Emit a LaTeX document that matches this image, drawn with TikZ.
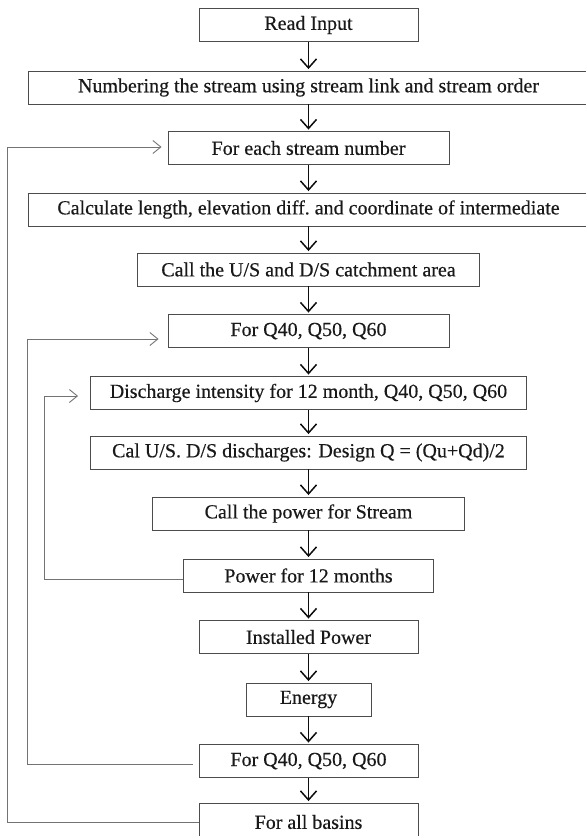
\documentclass[tikz,border=0pt]{standalone}
\usepackage{fontspec}
\setmainfont{Liberation Serif}[FakeBold=0.4]
\usetikzlibrary{arrows.meta}

\tikzset{
  stepbox/.style={draw=black!70, line width=0.9pt, minimum height=33pt, inner sep=0pt,
    text=black!90, font=\fontsize{20}{22}\selectfont},
  flow/.style={-{Straight Barb[length=9pt,width=16pt]}, line width=1.5pt, black!95, shorten >=1.5pt},
  fb/.style={-{Straight Barb[length=8pt,width=13pt]}, line width=0.9pt, black!55},
}

\begin{document}
\begin{tikzpicture}[x=1pt, y=-1pt]
  \useasboundingbox (0,0) rectangle (586,836);

  % main chain
  \node[stepbox, minimum width=219pt] (read) at (308.5,25) {Read Input};
  \node[stepbox, minimum width=561pt] (numb) at (308.5,87.5) {Numbering the stream using stream link and stream order};
  \node[stepbox, minimum width=281pt] (each) at (308.5,148) {For each stream number};
  \node[stepbox, minimum width=561pt] (calc) at (308.5,209.5) {Calculate length, elevation diff.\ and coordinate of intermediate};
  \node[stepbox, minimum width=342pt] (area) at (308.5,269.5) {Call the U/S and D/S catchment area};
  \node[stepbox, minimum width=281pt] (qa) at (308.5,331) {For Q40, Q50, Q60};
  \node[stepbox, minimum width=436pt] (disch) at (308.5,393) {Discharge intensity for 12 month, Q40, Q50, Q60};
  \node[stepbox, minimum width=436pt] (design) at (308.5,452.5) {Cal U/S. D/S discharges: Design Q = (Qu+Qd)/2};
  \node[stepbox, minimum width=312pt] (power) at (308.5,513.5) {Call the power for Stream};
  \node[stepbox, minimum width=250pt] (month) at (308.5,575.5) {Power for 12 months};
  \node[stepbox, minimum width=219pt] (inst) at (308.5,637) {Installed Power};
  \node[stepbox, minimum width=125pt] (energy) at (308.5,699.5) {Energy};
  \node[stepbox, minimum width=219pt] (qb) at (308.5,761) {For Q40, Q50, Q60};
  \node[stepbox, minimum width=219pt, minimum height=38pt] (basin) at (308.5,822) {For all basins};

  \foreach \a/\b in {read/numb, numb/each, each/calc, calc/area, area/qa, qa/disch,
                     disch/design, design/power, power/month, month/inst, inst/energy,
                     energy/qb, qb/basin}
    \draw[flow] (\a) -- (\b);

  % loops back
  \coordinate (outer) at (7.5,147);
  \coordinate (middle) at (27,339);
  \coordinate (inner) at (44,396);
  \draw[fb, shorten >=6pt] (basin.west) -| (outer) -- ([yshift=1pt]each.west);
  \draw[fb, shorten <=6pt, shorten >=9pt] ([yshift=-3pt]qb.west) -| (middle) -- ([yshift=-8pt]qa.west);
  \draw[fb, shorten >=12pt] ([yshift=-3.5pt]month.west) -| (inner) -- ([yshift=-3pt]disch.west);
\end{tikzpicture}
\end{document}
